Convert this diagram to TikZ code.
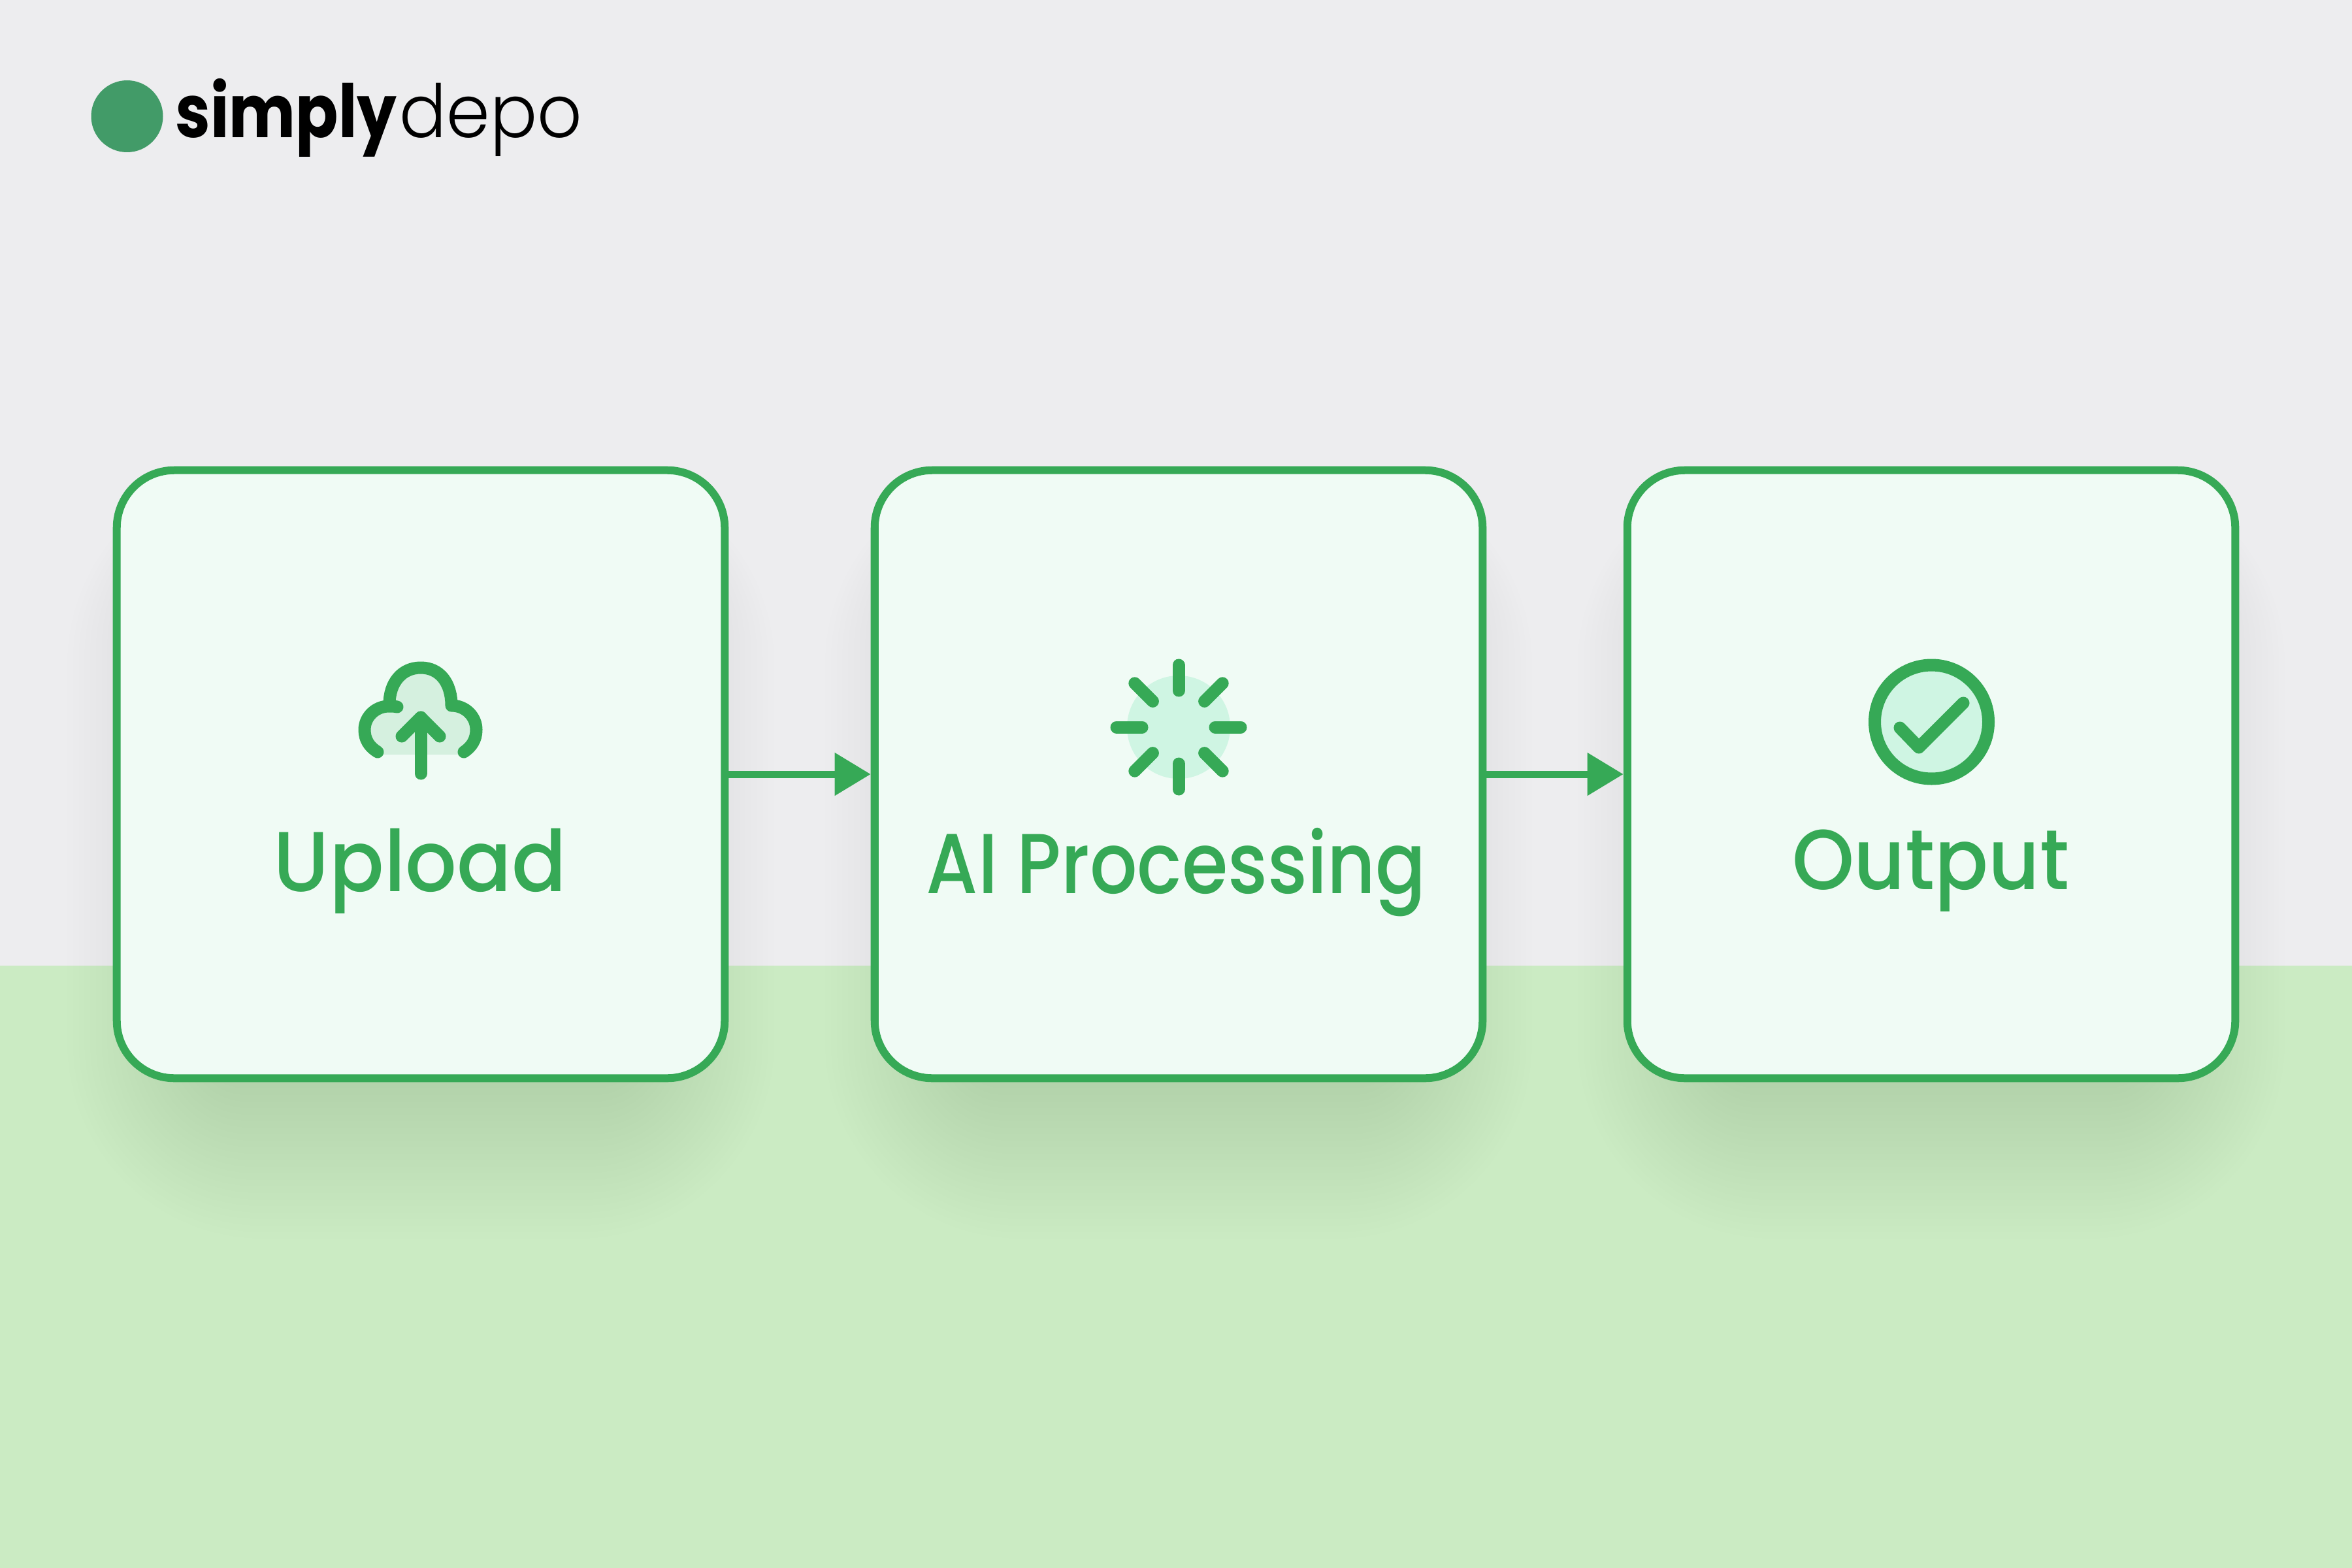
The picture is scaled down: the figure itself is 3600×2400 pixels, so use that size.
\documentclass[tikz,border=0pt]{standalone}
\usepackage{fontspec}
\usepackage{xcolor}
\usepackage{tikz}
\usetikzlibrary{positioning, arrows.meta}
\setmainfont{Poppins}
\newfontfamily\labelfont[FakeStretch=0.93]{Poppins Medium}
\newfontfamily\widelabelfont[FakeStretch=0.95]{Poppins Medium}
\newfontfamily\narrowlabelfont[FakeStretch=0.875]{Poppins Medium}
\newfontfamily\brandfont[FakeStretch=0.855]{Poppins Bold}
\newfontfamily\depofont[FakeStretch=0.95]{Poppins Light}
\definecolor{stepgreen}{HTML}{36A956}
\definecolor{stepfill}{HTML}{F0FBF5}
\definecolor{iconfill}{HTML}{CFF5E3}
\definecolor{cloudfill}{HTML}{D5F0DF}
\definecolor{wallgrey}{HTML}{EDEDEF}
\definecolor{floorgreen}{HTML}{CBEBC3}
\definecolor{logogreen}{HTML}{429B68}
\tikzset{
    stepbox/.style={draw=stepgreen, fill=stepfill, line width=0.12cm, rounded corners=0.88cm,
        minimum size=9.3cm, inner sep=0pt},
    steplabel/.style={text=stepgreen, anchor=base, inner sep=0pt, font=\fontsize{37}{37}\selectfont\labelfont},
    iconline/.style={draw=stepgreen, line width=0.19cm, line cap=round, line join=round},
    flowarrow/.style={draw=stepgreen, line width=0.11cm, -{Triangle[length=0.55cm, width=0.63cm]}},
}
\begin{document}
\begin{tikzpicture}[x=0.01cm, y=-0.01cm]
        \useasboundingbox (0,0) rectangle (3600,2400);

        % ==========================================
        % Background: wall and floor
        % ==========================================
        \fill[wallgrey] (0,0) rectangle (3600,1478);
        \fill[floorgreen] (0,1478) rectangle (3600,2400);

        % ==========================================
        % Logo
        % ==========================================
        \fill[logogreen] (194.5,178) circle (55);
        \node[anchor=base west, inner sep=0pt, font=\fontsize{32}{32}\selectfont\brandfont] (brand) at (268,210) {simply};
        \node[inner sep=0pt, font=\fontsize{32}{32}\selectfont\depofont, right=0.03cm of brand.base east, anchor=base west] (depo) {depo};

        % ==========================================
        % Soft shadows under the three steps
        % ==========================================
        \foreach \cx in {644,1804,2956}
            \foreach \grow in {1,...,24} {
                \pgfmathsetlengthmacro\cornerlen{(0.6+0.1*\grow)*1cm}
                \fill[black, opacity=0.0045, rounded corners=\cornerlen]
                    (\cx-471-8.75*\grow+140,860-6*\grow) rectangle (\cx+471+8.75*\grow-140,1656+10*\grow);
            }

        % ==========================================
        % Steps
        % ==========================================
        \node[stepbox] (upload) at (644,1185) {};
        \node[stepbox] (processing) at (1804,1185) {};
        \node[stepbox] (result) at (2956,1185) {};

        \draw[flowarrow] (upload) -- (processing);
        \draw[flowarrow] (processing) -- (result);

        % ==========================================
        % Upload icon
        % ==========================================
        \fill[cloudfill] (597,1081) .. controls (597,1050) and (615,1022) .. (644,1022)
            .. controls (673,1022) and (691,1050) .. (691,1081)
            .. controls (715,1081) and (729,1098) .. (729,1117)
            .. controls (729,1135) and (722,1155) .. (700,1155)
            -- (590,1155) .. controls (566,1155) and (558,1135) .. (558,1117)
            .. controls (558,1098) and (575,1081) .. (597,1081) -- cycle;
        \draw[iconline] (578,1151) .. controls (565,1143) and (558,1132) .. (558,1117)
            .. controls (558,1097) and (575,1081) .. (595,1081)
            .. controls (600,1081) and (604,1081) .. (608,1082);
        \draw[iconline] (596,1078) .. controls (596,1045) and (615,1022) .. (644,1022)
            .. controls (673,1022) and (691,1045) .. (691,1080)
            .. controls (713,1080) and (729,1097) .. (729,1117)
            .. controls (729,1132) and (722,1143) .. (710,1151);
        \draw[iconline] (615,1127) -- (644,1098) -- (673,1127);
        \draw[iconline] (644,1098) -- (644,1184);

        % ==========================================
        % Processing icon
        % ==========================================
        \fill[iconfill] (1804,1113) circle (79);
        \foreach \a in {0,45,...,315}
            \draw[iconline, shift={(1804,1113)}] (\a:56) -- (\a:95);

        % ==========================================
        % Output icon
        % ==========================================
        \draw[iconline, fill=iconfill] (2956.5,1105) circle (87);
        \draw[iconline] (2908,1114) -- (2937,1144) -- (3005,1076);

        % ==========================================
        % Labels
        % ==========================================
        \node[steplabel, font=\fontsize{37}{37}\selectfont\widelabelfont] (uploadtext) at (643,1364) {Upload};
        \node[steplabel, font=\fontsize{37}{37}\selectfont\narrowlabelfont] (processingtext) at (1800,1367) {AI Processing};
        \node[steplabel] (resulttext) at (2955,1361) {Output};

\end{tikzpicture}
\end{document}
